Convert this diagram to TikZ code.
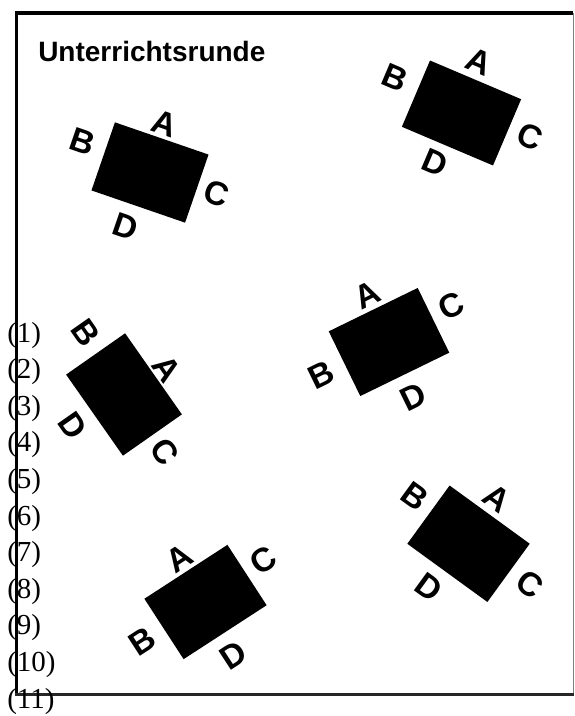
\documentclass[tikz,border=0pt]{standalone}
\usepackage{fontspec}
\setmainfont{Liberation Serif}
\newfontfamily\titlefont{Liberation Sans}
\newfontfamily\seatfont{Liberation Sans}
\begin{document}
\begin{tikzpicture}[x=0.75pt,y=-0.75pt,
  tablebox/.style={fill=black, draw=none, minimum width=74.25pt, minimum height=54pt, inner sep=0pt},
  seat/.style={font=\seatfont\bfseries\fontsize{25}{25}\selectfont, inner sep=0pt},
  rowlabel/.style={font=\fontsize{21.75}{22}\selectfont, inner sep=0pt, anchor=base west},
  titlestyle/.style={font=\titlefont\bfseries\fontsize{21}{21}\selectfont, inner sep=0pt, anchor=base west},
  ]
\useasboundingbox (0,0) rectangle (574,716);
\fill[white] (0,0) rectangle (574,716);
% frame
\draw[line width=2.4pt] (16.5,695) -- (16.5,13) -- (573,13);
\draw[gray, line width=0.75pt] (573,13) -- (573,694);
\draw[line width=2.25pt, black!85] (15,694.5) -- (574,694.5);
% title
\node[titlestyle] (title) at (38,62) {Unterrichtsrunde};
% tables
\foreach \n/\x/\y/\r in {t1/150/172.5/-19, t2/461.5/113/-23, t3/124/394.5/-55,
                         t4/389/342/26, t5/205.5/602/33, t6/468.5/543.75/-36}
  \node[tablebox, rotate=\r] (\n) at (\x,\y) {};
% seat letters
\foreach \n/\l/\x/\y/\r in {
    t1/A/165/124/-19, t1/B/83/142/-19, t1/C/217/194/-19, t1/D/126/227/-19,
    t2/A/479/62/-23, t2/B/395/78/-23, t2/C/530/137/-23, t2/D/435/163/-23,
    t3/A/167/369/-55, t3/B/86/333/-55, t3/C/165/452/-55, t3/D/73/426/-55,
    t4/A/367/295/26, t4/B/321/375/26, t4/C/451/306/26, t4/D/413/397/26,
    t5/A/179/558/33, t5/B/142/641/33, t5/C/263/560/33, t5/D/233/655/33,
    t6/A/497/498/-36, t6/B/415/496/-36, t6/C/530/584/-36, t6/D/429/587/-36}
  \node[seat, rotate=\r] (\n\l) at (\x,\y) {\l};
% row labels
\foreach \i in {1,...,11}
  \node[rowlabel] (row\i) at (7,{342+36.6*(\i-1)}) {(\i)};
\end{tikzpicture}
\end{document}
